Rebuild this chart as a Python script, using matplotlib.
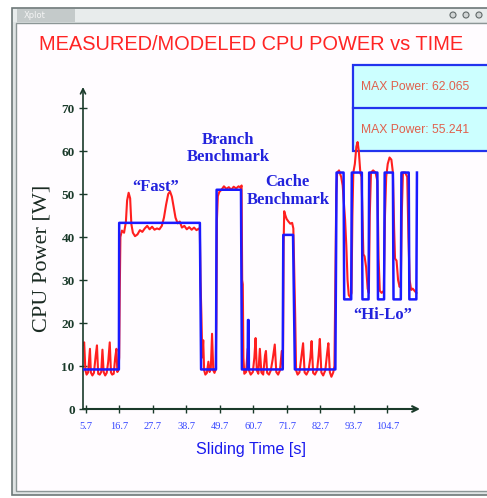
import matplotlib
matplotlib.use('Agg')
import matplotlib.pyplot as plt
from matplotlib import font_manager
from matplotlib.patches import Rectangle, Circle
from matplotlib.transforms import Affine2D

# measured CPU power (red trace)
t_meas = [4.9, 5.1, 5.5, 5.9, 6.4, 6.8, 7.0, 7.3, 7.8, 8.3, 8.9, 9.3, 9.7, 10.2, 10.7, 11.1, 11.5, 12.0,
          12.5, 13.0, 13.5, 13.9, 14.3, 14.8, 15.3, 15.7, 16.0, 16.3,
          16.6, 16.8, 17.0, 17.5, 18.2, 18.8, 19.2, 19.7, 20.2, 20.6, 21.1, 21.8, 22.6, 23.4, 24.2, 25.0,
          25.8, 26.6, 27.4, 28.2, 29.0, 29.8, 30.6, 31.3, 32.0, 32.7, 33.3, 33.9, 34.5, 35.1, 35.8, 36.5,
          37.2, 38.0, 38.8, 39.6, 40.4, 41.2, 42.0, 42.8, 43.1,
          43.3, 43.6, 43.9, 44.2, 44.5, 44.9, 45.4, 45.9, 46.3, 46.7, 47.1, 47.5, 47.9, 48.3,
          48.5, 48.7, 49.0, 49.5, 50.2, 51.0, 51.8, 52.6, 53.4, 54.2, 55.0, 55.8, 56.5, 56.8,
          57.0, 57.2, 57.4, 57.7, 58.3, 58.8, 59.2, 59.8, 60.5, 61.0, 61.4, 61.8, 62.3, 62.8, 63.3, 63.9,
          64.5, 64.8, 65.2, 65.8, 66.4, 67.0, 67.7, 68.2, 68.8, 69.4, 70.0, 70.4,
          70.6, 70.8, 71.2, 71.6, 72.2, 72.8, 73.4, 73.8, 74.1, 74.4, 74.7,
          75.2, 75.8, 76.4, 77.0, 77.5, 78.1, 78.8, 79.4, 79.8, 80.3, 80.9, 81.6, 82.1, 82.5, 83.0, 83.6,
          84.3, 84.9, 85.3, 85.8, 86.3, 86.9, 87.3,
          87.6, 87.9, 88.2, 88.8, 89.5, 90.0, 90.4, 90.8, 91.2, 91.6, 92.0, 92.5, 92.9, 93.2, 93.5, 94.0,
          94.5, 94.9, 95.3, 95.8, 96.2, 96.5, 96.8, 97.2, 97.7, 98.2, 98.6, 98.9, 99.3, 100.0, 100.8,
          101.4, 101.8, 102.2, 102.8, 103.5, 103.9, 104.3, 104.8, 105.4, 106.0, 106.5, 106.9, 107.2,
          107.7, 108.2, 108.7, 109.1, 109.4, 109.8, 110.5, 111.2, 111.6, 112.0, 112.5, 113.0, 113.6, 114.2]
p_meas = [15.0, 15.5, 9.0, 8.0, 8.5, 12.0, 14.0, 8.5, 7.8, 8.4, 12.5, 14.8, 8.2, 8.0, 8.6, 13.8, 8.6, 7.8,
          8.4, 11.0, 15.5, 8.5, 8.0, 8.2, 12.0, 14.0, 8.6, 9.0,
          12.0, 28.0, 40.0, 41.5, 41.0, 43.5, 48.5, 50.3, 49.0, 43.0, 41.0, 40.2, 40.6, 41.6, 41.2, 42.0,
          42.6, 41.8, 42.4, 41.7, 42.0, 41.8, 42.6, 44.5, 47.5, 50.0, 50.6, 49.4, 47.0, 44.5, 43.2, 43.6,
          42.2, 42.6, 41.8, 42.3, 41.7, 42.2, 41.6, 42.0, 41.5,
          30.0, 22.0, 12.0, 16.0, 9.0, 8.0, 8.4, 11.0, 8.6, 9.5, 17.5, 9.0, 8.4, 9.2,
          20.0, 44.0, 49.5, 50.5, 51.0, 51.8, 51.2, 51.6, 51.0, 51.7, 51.3, 51.8, 51.5, 52.0,
          30.0, 29.0, 12.0, 8.2, 8.6, 14.0, 9.0, 8.0, 8.6, 12.0, 16.5, 9.0, 8.2, 14.0, 8.5, 8.0,
          12.5, 13.5, 8.4, 8.0, 9.0, 11.5, 15.0, 8.6, 8.0, 9.0, 13.5, 9.5,
          38.0, 46.0, 45.0, 44.2, 43.6, 43.1, 43.3, 42.0, 32.0, 22.0, 9.0,
          8.0, 8.5, 12.0, 15.3, 8.5, 8.0, 9.0, 12.0, 15.8, 8.4, 8.0, 9.0, 12.5, 16.3, 8.5, 7.8,
          9.0, 13.0, 15.3, 8.5, 7.5, 8.5, 10.0,
          30.0, 50.0, 55.0, 55.5, 54.0, 52.0, 48.0, 44.0, 38.0, 30.0, 26.5, 26.0, 27.0, 45.0, 55.0, 57.0,
          61.0, 62.1, 60.0, 55.0, 54.0, 45.0, 36.0, 35.5, 33.0, 28.0, 27.0, 45.0, 55.0, 55.5, 55.0,
          53.0, 35.0, 27.5, 27.0, 27.5, 45.0, 54.0, 57.0, 58.5, 58.0, 55.0, 42.0, 35.0,
          34.5, 30.0, 28.4, 29.0, 45.0, 55.0, 55.0, 54.0, 40.0, 30.0, 27.7, 28.0, 27.5, 27.0]

# modeled CPU power (blue trace)
t_model = [4.9, 16.5, 16.6, 43.1, 43.5, 48.4, 48.6, 56.6, 56.9, 58.8, 58.9, 59.1, 59.2, 70.3, 70.5,
           73.7, 74.3, 87.6, 88.0, 90.3, 90.5, 92.8, 93.0, 96.3, 96.5, 98.5, 98.7, 101.4, 101.6,
           103.6, 103.8, 106.5, 106.7, 109.1, 109.3, 111.7, 111.9, 114.2, 114.4]
p_model = [9.2, 9.2, 43.3, 43.3, 9.2, 9.2, 51.0, 51.0, 9.2, 9.2, 20.7, 20.7, 9.2, 9.2, 40.5,
           40.5, 9.2, 9.2, 55.0, 55.0, 25.5, 25.5, 55.0, 55.0, 25.5, 25.5, 55.0, 55.0, 25.5,
           25.5, 55.0, 55.0, 25.5, 25.5, 55.0, 55.0, 25.5, 25.5, 55.0]

x_ticks = [5.7, 16.7, 27.7, 38.7, 49.7, 60.7, 71.7, 82.7, 93.7, 104.7]
y_ticks = [0, 10, 20, 30, 40, 50, 60, 70]
max_labels = ['MAX Power: 62.065', 'MAX Power: 55.241']

W, H = 487, 498
names = {f.name for f in font_manager.fontManager.ttflist}
narrow = 'Liberation Sans Narrow' in names
sans = 'Liberation Sans Narrow' if narrow else 'Liberation Sans'
k = 1.0 if narrow else 0.82
serif = 'Liberation Serif'

fig = plt.figure(figsize=(W / 100, H / 100), dpi=100)
fig.patch.set_facecolor('white')
px = Affine2D().scale(1 / W, -1 / H).translate(0, 1) + fig.transFigure

# window frame
fig.add_artist(Rectangle((12, 8), 480, 487, transform=px, facecolor='#dfe4e4', edgecolor='#6d7878', lw=1.2, zorder=-5))
fig.add_artist(Rectangle((16, 23), 476, 468, transform=px, facecolor='#fffcff', edgecolor='#8c9696', lw=1.0, zorder=-4))
fig.add_artist(Rectangle((13, 9), 478, 13, transform=px, facecolor='#e8ecec', edgecolor='none', zorder=-4))
fig.add_artist(Rectangle((17, 9), 58, 13, transform=px, facecolor='#c4caca', edgecolor='none', zorder=-4))
fig.text(24 / W, 1 - 15 / H, 'Xplot', fontsize=6, color='#f4f4f4', va='center', family='DejaVu Sans')
for cx in [453, 466, 479]:
    fig.add_artist(Circle((cx, 15), 3, transform=px, facecolor='#d0d4d4', edgecolor='#606868', lw=0.8))

# MAX power box
fig.add_artist(Rectangle((353, 65), 140, 86, transform=px, facecolor='#ccffff', edgecolor='#2233ee', lw=1.6, zorder=-3))
fig.add_artist(plt.Line2D([353, 493], [108, 108], transform=px, color='#2233ee', lw=1.6, zorder=-3))
for lab, yy in zip(max_labels, [87, 130]):
    fig.text(361 / W, 1 - yy / H, lab, fontsize=10.6 * k, color='#e0604c', va='center', family=sans, zorder=-2)

fig.text(251 / W, 1 - 44 / H, 'MEASURED/MODELED CPU POWER vs TIME', fontsize=17.6 * k,
         color='#ff2424', ha='center', va='center', family=sans)

ax = fig.add_axes([83 / W, (H - 409) / H, 337 / W, 322 / H])
ax.patch.set_visible(False)
ax.set_xlim(4.715, 115.4)
ax.set_ylim(0, 74.9)

ax.plot(t_meas, p_meas, color='#ff1f1f', lw=1.5, zorder=3)
ax.plot(t_model, p_model, color='#1a1aff', lw=1.8, zorder=4)

for s in ax.spines.values():
    s.set_visible(False)
axc = '#1a3a2a'
ax.annotate('', xy=(1.0, 0), xytext=(0, 0), xycoords='axes fraction',
            arrowprops=dict(arrowstyle='->', color=axc, lw=1.5, mutation_scale=10, shrinkA=0, shrinkB=0))
ax.annotate('', xy=(0, 1.0), xytext=(0, 0), xycoords='axes fraction',
            arrowprops=dict(arrowstyle='->', color=axc, lw=1.2, mutation_scale=9, shrinkA=0, shrinkB=0))

ax.set_xticks(x_ticks)
ax.set_xticklabels([str(v) for v in x_ticks], fontsize=7.5, color='#3344ff', family=serif)
ax.set_yticks(y_ticks)
ax.set_yticklabels([str(v) for v in y_ticks], fontsize=9.5, color=axc, family=serif, fontweight='bold')
ax.tick_params(axis='x', direction='inout', length=6, width=1, color=axc, pad=6)
ax.tick_params(axis='y', direction='inout', length=6, width=1, color=axc, pad=3)

ax.set_xlabel('Sliding Time [s]', fontsize=14.2 * k, color='#1a1aee', family=sans)
ax.xaxis.set_label_coords(0.4985, -0.127)
ax.xaxis.label.set_va('center')
ax.set_ylabel('CPU Power [W]', fontsize=16, color='#1a2a22', family=serif)
ax.yaxis.set_label_coords(-0.122, 0.469)
ax.yaxis.label.set_va('center')

ann = dict(fontsize=12, color='#2222dd', family=serif, fontweight='bold', ha='center', va='center')
ax.text(28.7, 51.6, '\u201cFast\u201d', **ann)
ax.text(52.5, 60.6, 'Branch\nBenchmark', linespacing=1.1, **ann)
ax.text(72.0, 50.7, 'Cache\nBenchmark', linespacing=1.1, **ann)
ax.text(103.1, 21.9, '\u201cHi-Lo\u201d', **ann)

fig.savefig('out.png', dpi=100)
